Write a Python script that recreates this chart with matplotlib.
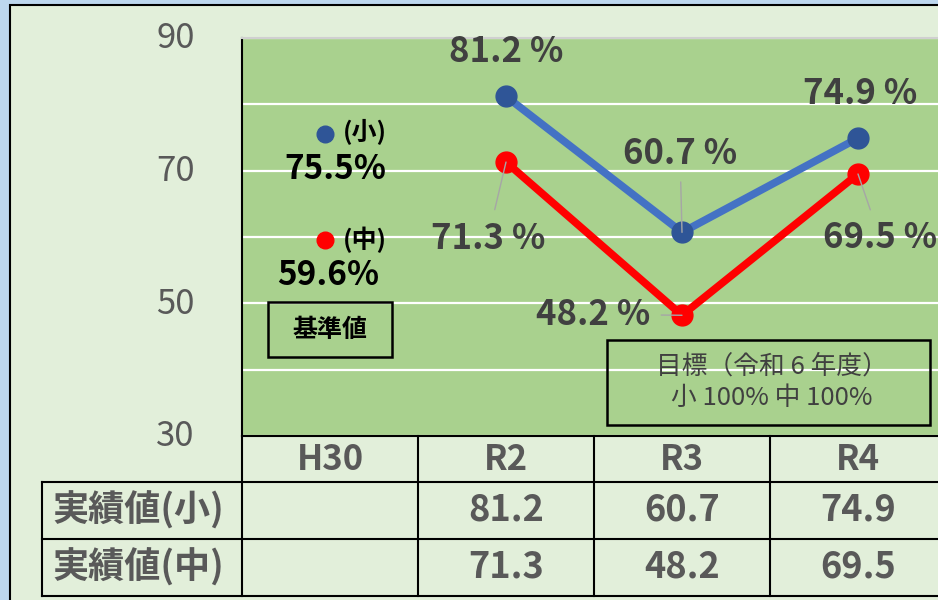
import matplotlib
matplotlib.use("Agg")
import matplotlib.pyplot as plt
import matplotlib.transforms as mtransforms
from matplotlib.patches import Rectangle
from matplotlib.lines import Line2D
from matplotlib.ticker import MultipleLocator

plt.rcParams['font.family'] = ['Noto Sans CJK JP', 'DejaVu Sans']

# データ
years = ['H30', 'R2', 'R3', 'R4']
small = [None, 81.2, 60.7, 74.9]     # 実績値（小）
middle = [None, 71.3, 48.2, 69.5]    # 実績値（中）
base_small = 75.5                    # 基準値（小）
base_middle = 59.6                   # 基準値（中）
row_labels = ['実績値(小)', '実績値(中)']
y_ticks = [30, 50, 70, 90]
target_text = '目標（令和 6 年度）\n小 100% 中 100%'

W, H = 938, 600
BLUE_LINE = '#4472c4'
BLUE_DOT = '#2f5597'
RED = '#ff0000'
LABEL = '#404040'
GRAY = '#595959'


def fx(px):
    return px / W


def fy(py):
    return 1 - py / H


fig = plt.figure(figsize=(W / 100, H / 100), dpi=100)
fig.patch.set_facecolor('#bdd7ee')
fig.add_artist(Rectangle((fx(10), -0.05), 1, fy(5) + 0.05, transform=fig.transFigure,
                         facecolor='#e2efda', edgecolor='black', lw=1.5, zorder=0))

ax = fig.add_axes([fx(242), fy(436), 1 - fx(242), (436 - 38) / H])
ax.set_facecolor('#a9d18e')
ax.set_xlim(-0.5, -0.5 + (W - 242) / 176)
ax.set_ylim(30, 90)
ax.set_yticks(y_ticks)
ax.yaxis.set_minor_locator(MultipleLocator(10))
ax.grid(axis='y', which='both', color='white', lw=1.6, zorder=1)
ax.set_xticks([])
ax.tick_params(axis='y', which='both', length=0, pad=34, labelsize=25, labelcolor=GRAY)
up = mtransforms.ScaledTranslation(0, 3 / 100, fig.dpi_scale_trans)
for lbl in ax.get_yticklabels():
    lbl.set_transform(lbl.get_transform() + up)
ax.spines['right'].set_visible(False)
ax.spines['top'].set_color('#d0d0d0')
ax.spines['top'].set_linewidth(1.5)
ax.spines['left'].set_linewidth(1.5)
ax.spines['bottom'].set_linewidth(1.5)

# 実績値の折れ線
xs = [i for i, v in enumerate(small) if v is not None]
ys_s = [small[i] for i in xs]
ys_m = [middle[i] for i in xs]
ax.plot(xs, ys_s, color=BLUE_LINE, lw=5.5, zorder=3)
ax.plot(xs, ys_s, 'o', color=BLUE_DOT, ms=15, zorder=4)
ax.plot(xs, ys_m, color=RED, lw=5.5, zorder=3)
ax.plot(xs, ys_m, 'o', color=RED, ms=15, zorder=4)

# 基準値（H30）
ax.plot([-0.03], [base_small], 'o', color=BLUE_DOT, ms=12, zorder=4)
ax.plot([-0.03], [base_middle], 'o', color=RED, ms=12, zorder=4)
ax.annotate('(小)', (-0.03, base_small), xytext=(18, 2), textcoords='offset pixels',
            ha='left', va='center', fontsize=18, fontweight='bold', color='black')
ax.annotate(f'{base_small}%', (-0.03, base_small), xytext=(11, -35), textcoords='offset pixels',
            ha='center', va='center', fontsize=24, fontweight='bold', color='black')
ax.annotate('(中)', (-0.03, base_middle), xytext=(18, 0), textcoords='offset pixels',
            ha='left', va='center', fontsize=18, fontweight='bold', color='black')
ax.annotate(f'{base_middle}%', (-0.03, base_middle), xytext=(4, -36), textcoords='offset pixels',
            ha='center', va='center', fontsize=24, fontweight='bold', color='black')

# データラベル
lead = dict(arrowstyle='-', color='#a6a6a6', lw=1, shrinkA=6, shrinkB=0)
offs_s = [None, (0, 45), (-2, 79), (2, 45)]
offs_m = [None, (-18, -76), (-89, 1), (22, -64)]
lead_s = [False, False, True, False]
lead_m = [False, True, True, True]
for i in xs:
    ax.annotate(f'{small[i]:.1f} %', (i, small[i]), xytext=offs_s[i], textcoords='offset pixels',
                ha='center', va='center', fontsize=25, fontweight='bold', color=LABEL,
                arrowprops=lead if lead_s[i] else None, zorder=5)
    ax.annotate(f'{middle[i]:.1f} %', (i, middle[i]), xytext=offs_m[i], textcoords='offset pixels',
                ha='center', va='center', fontsize=25, fontweight='bold', color=LABEL,
                arrowprops=lead if lead_m[i] else None, zorder=5)

# 基準値ボックス
fig.add_artist(Rectangle((fx(268), fy(357)), fx(392) - fx(268), fy(302) - fy(357),
                         transform=fig.transFigure, fill=False, edgecolor='black', lw=1.8, zorder=6))
fig.text(fx(330), fy(330), '基準値', ha='center', va='center', fontsize=18,
         fontweight='bold', color='black')

# 目標ボックス
fig.add_artist(Rectangle((fx(607), fy(425)), fx(930) - fx(607), fy(340) - fy(425),
                         transform=fig.transFigure, fill=False, edgecolor='black', lw=1.8, zorder=6))
fig.text(fx(772), fy(382), target_text, ha='center', va='center', fontsize=18.5,
         color=LABEL, linespacing=1.25)

# 下の表
trans = mtransforms.blended_transform_factory(ax.transData, fig.transFigure)
for b in [i - 0.5 for i in range(len(years) + 1)]:
    ax.plot([b, b], [fy(436), fy(596)], transform=trans, clip_on=False, color='black', lw=1.5)
for py in [482, 539, 596]:
    fig.add_artist(Line2D([fx(42), 1], [fy(py), fy(py)], color='black', lw=1.5))
fig.add_artist(Line2D([fx(42), fx(42)], [fy(482), fy(596)], color='black', lw=1.5))

for i, yr in enumerate(years):
    ax.text(i, fy(459), yr, transform=trans, ha='center', va='center', fontsize=25,
            fontweight='bold', color=GRAY)
    if small[i] is not None:
        ax.text(i, fy(510), f'{small[i]:.1f}', transform=trans, ha='center', va='center',
                fontsize=26, fontweight='bold', color=GRAY)
        ax.text(i, fy(567), f'{middle[i]:.1f}', transform=trans, ha='center', va='center',
                fontsize=26, fontweight='bold', color=GRAY)
for lbl, py in zip(row_labels, [510, 567]):
    fig.text(fx(138), fy(py), lbl, ha='center', va='center', fontsize=26,
             fontweight='bold', color=GRAY)

fig.savefig('out.png', dpi=100, facecolor=fig.get_facecolor())
